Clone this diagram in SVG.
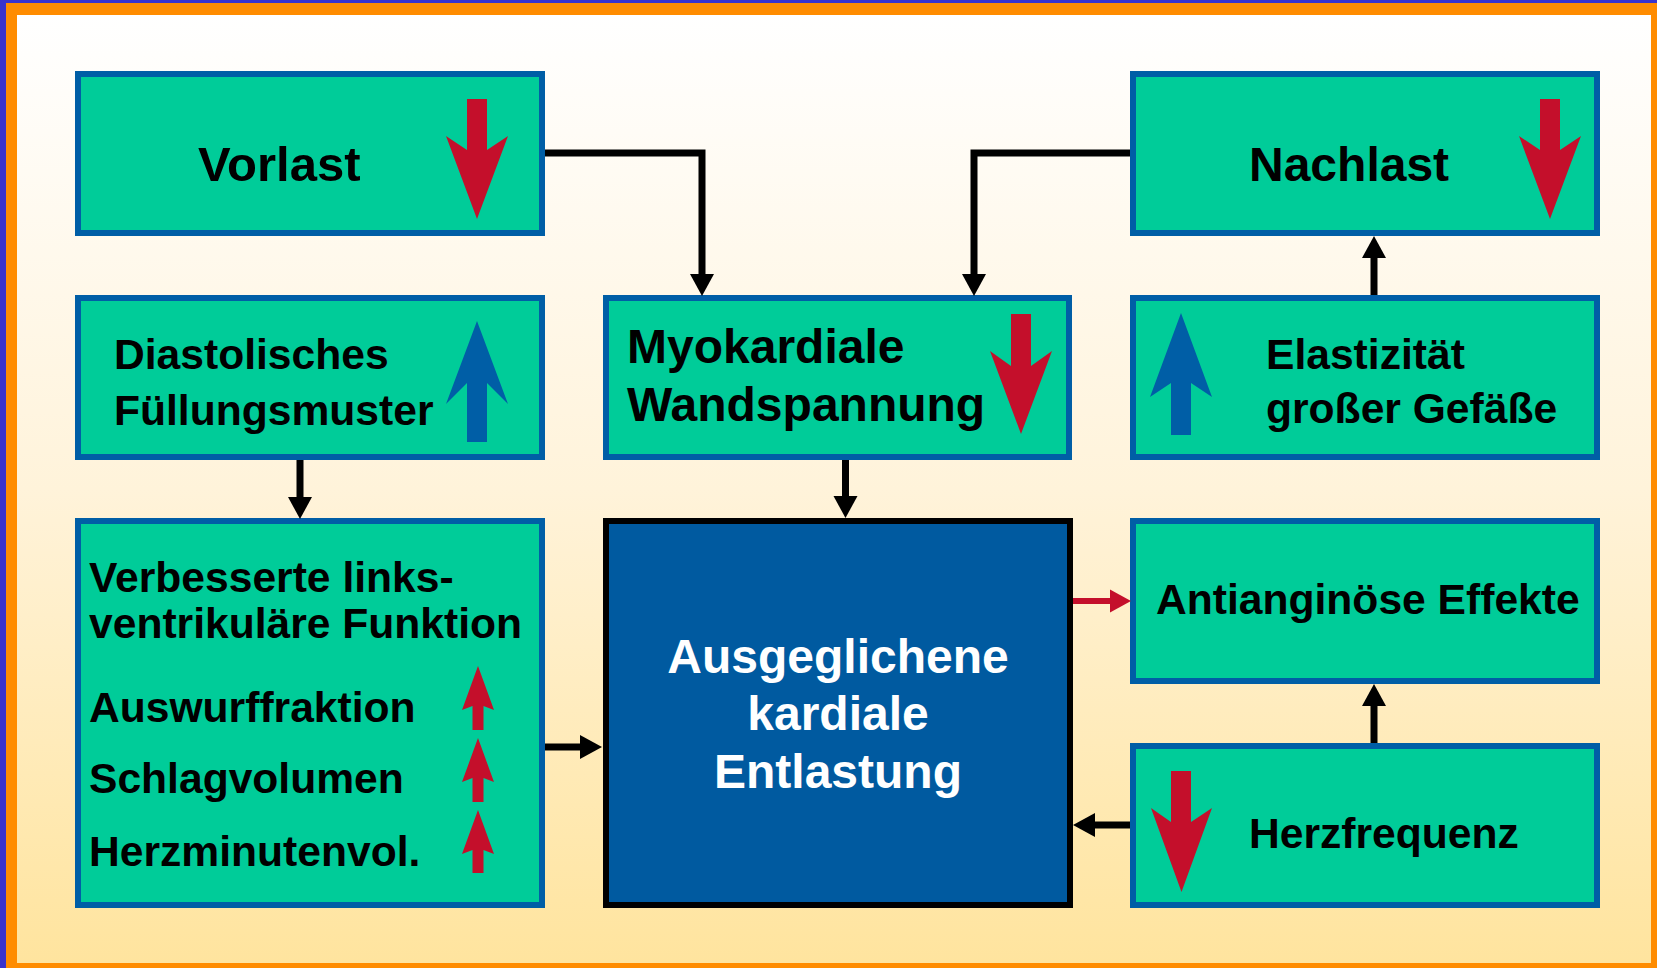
<svg xmlns="http://www.w3.org/2000/svg" width="1657" height="968" viewBox="0 0 1657 968">
<defs>
<linearGradient id="bg" x1="0" y1="0" x2="0" y2="1">
<stop offset="0" stop-color="#ffffff"/>
<stop offset="0.5" stop-color="#fff3da"/>
<stop offset="1" stop-color="#ffe49e"/>
</linearGradient>
<marker id="ah" markerUnits="userSpaceOnUse" markerWidth="23" markerHeight="24" refX="0" refY="12" orient="auto" overflow="visible">
<path d="M0,0 L22,12 L0,24 Z" fill="#000"/>
</marker>
<marker id="ahr" markerUnits="userSpaceOnUse" markerWidth="22" markerHeight="24" refX="0" refY="12" orient="auto" overflow="visible">
<path d="M0,0.5 L21,12 L0,23.5 Z" fill="#c40f2b"/>
</marker>
<style>
.box{fill:#00cc99;stroke:#005ea6;stroke-width:6}
.core{fill:#005aa0;stroke:#000;stroke-width:6}
.t{font-family:"Liberation Sans",Arial,Helvetica,sans-serif;font-weight:bold;fill:#000}
.w{fill:#fff}
.big{font-size:48px}
.mid{font-size:42.6px}
.red{fill:#c40f2b}
.blue{fill:#005ea6}
.con{fill:none;stroke:#000;stroke-width:7;stroke-linejoin:miter}
.conr{fill:none;stroke:#c40f2b;stroke-width:6}
</style>
</defs>

<rect x="0" y="0" width="1657" height="968" fill="#3a33cc"/>
<rect x="6" y="3" width="1651" height="965" fill="#ff8c00"/>
<rect x="17" y="15" width="1634" height="948" fill="url(#bg)"/>

<g id="vorlast">
<rect class="box" x="78" y="74" width="464" height="159"/>
<text class="t" font-size="49" x="198" y="181">Vorlast</text>
<polygon class="red" points="467,99 487,99 487,150 508,136 477,219 446,136 467,150"/>
</g>

<g id="nachlast">
<rect class="box" x="1133" y="74" width="464" height="159"/>
<text class="t big" x="1249" y="181">Nachlast</text>
<polygon class="red" points="1540,99 1560,99 1560,150 1581,136 1550,219 1519,136 1540,150"/>
</g>

<g id="diastolisches">
<rect class="box" x="78" y="298" width="464" height="159"/>
<text class="t mid" x="114" y="369">Diastolisches</text>
<text class="t mid" x="114" y="425">Füllungsmuster</text>
<polygon class="blue" points="477,321 508,404 487,383 487,442 467,442 467,383 446,404"/>
</g>

<g id="myokardiale">
<rect class="box" x="606" y="298" width="463" height="159"/>
<text class="t big" x="627" y="363">Myokardiale</text>
<text class="t big" x="627" y="421">Wandspannung</text>
<polygon class="red" points="1011,314 1031,314 1031,366 1052,351 1021,434 990,351 1011,366"/>
</g>

<g id="elastizitaet">
<rect class="box" x="1133" y="298" width="464" height="159"/>
<text class="t mid" x="1266" y="369">Elastizität</text>
<text class="t mid" x="1266" y="423">großer Gefäße</text>
<polygon class="blue" points="1181,313 1212,397 1191,383 1191,435 1171,435 1171,383 1150,397"/>
</g>

<g id="verbesserte">
<rect class="box" x="78" y="521" width="464" height="384"/>
<text class="t mid" x="89" y="592">Verbesserte links-</text>
<text class="t mid" x="89" y="638">ventrikuläre Funktion</text>
<text class="t mid" x="89" y="722">Auswurffraktion</text>
<text class="t mid" x="89" y="793">Schlagvolumen</text>
<text class="t mid" x="89" y="866">Herzminutenvol.</text>
<polygon class="red" points="478,666 494,710 483.5,706 483.5,730 472.5,730 472.5,706 462,710"/>
<polygon class="red" points="478,738 494,782 483.5,778 483.5,802 472.5,802 472.5,778 462,782"/>
<polygon class="red" points="478,810 494,854 483.5,850 483.5,873 472.5,873 472.5,850 462,854"/>
</g>

<g id="entlastung">
<rect class="core" x="606" y="521" width="464" height="384"/>
<text class="t w big" x="838" y="673" text-anchor="middle">Ausgeglichene</text>
<text class="t w big" x="838" y="730" text-anchor="middle">kardiale</text>
<text class="t w big" x="838" y="788" text-anchor="middle">Entlastung</text>
</g>

<g id="antianginoese">
<rect class="box" x="1133" y="521" width="464" height="160"/>
<text class="t mid" x="1156" y="614">Antianginöse Effekte</text>
</g>

<g id="herzfrequenz">
<rect class="box" x="1133" y="746" width="464" height="159"/>
<text class="t mid" x="1249" y="848">Herzfrequenz</text>
<polygon class="red" points="1171,771 1191,771 1191,822 1212,808 1181.5,892 1151,808 1171,822"/>
</g>

<g id="connectors">
<path class="con" d="M545,153 H702 V274" marker-end="url(#ah)"/>
<path class="con" d="M1130,153 H974 V274" marker-end="url(#ah)"/>
<path class="con" d="M300,460 V497" marker-end="url(#ah)"/>
<path class="con" d="M845.5,460 V496" marker-end="url(#ah)"/>
<path class="con" d="M545,747 H580" marker-end="url(#ah)"/>
<path class="con" d="M1130,825 H1095" marker-end="url(#ah)"/>
<path class="con" d="M1374,743 V706" marker-end="url(#ah)"/>
<path class="con" d="M1374,295 V258" marker-end="url(#ah)"/>
<path class="conr" d="M1073,601 H1110" marker-end="url(#ahr)"/>
</g>
</svg>
